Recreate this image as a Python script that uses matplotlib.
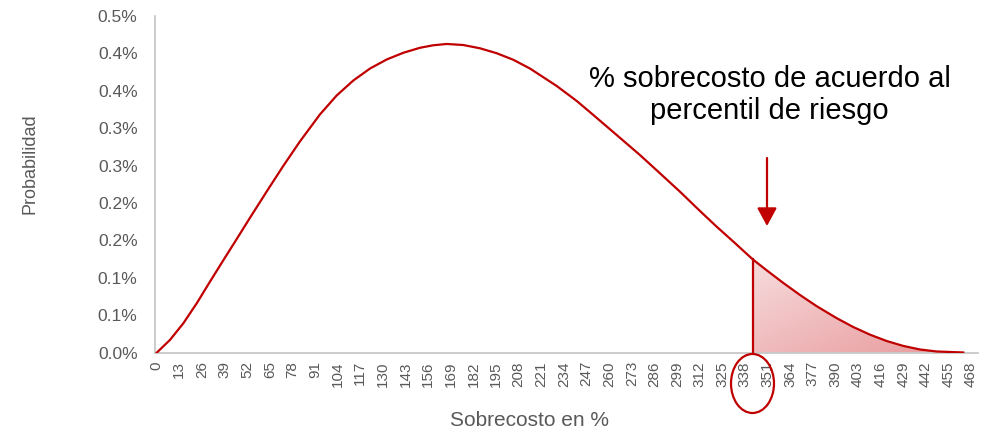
import matplotlib.pyplot as plt
import numpy as np
from matplotlib.patches import Polygon, Ellipse
from matplotlib.colors import LinearSegmentedColormap

plt.rcParams['font.family'] = ['Liberation Sans', 'DejaVu Sans']

# puntos (sobrecosto en %, probabilidad)
sobrecosto = np.array([0.0, 7.6, 15.3, 23.0, 30.6, 38.3, 46.0, 53.6, 63.2, 72.7, 82.3,
                       93.8, 103.4, 113.0, 122.6, 132.2, 141.7, 151.3, 158.8, 166.6,
                       176.2, 185.8, 195.4, 204.9, 214.5, 229.9, 241.4, 250.9, 264.3,
                       277.7, 289.2, 300.7, 312.2, 321.8, 331.4, 342.5, 350.6, 360.1,
                       369.7, 379.3, 390.8, 400.3, 409.9, 419.5, 429.1, 438.6, 448.2,
                       463.5])
probabilidad = np.array([0.0, 0.000170, 0.000393, 0.000660, 0.000949, 0.001236, 0.001520,
                         0.001803, 0.002154, 0.002495, 0.002823, 0.003184, 0.003437,
                         0.003638, 0.003798, 0.003919, 0.004008, 0.004075, 0.004108,
                         0.004126, 0.004112, 0.004068, 0.004002, 0.003915, 0.003798,
                         0.003564, 0.003364, 0.003177, 0.002910, 0.002642, 0.002398,
                         0.002152, 0.001894, 0.001684, 0.001484, 0.001248, 0.001100,
                         0.000932, 0.000771, 0.000621, 0.000461, 0.000343, 0.000241,
                         0.000156, 0.000090, 0.000043, 0.000016, 0.000003])
etiquetas_x = np.arange(0, 469, 13)
y_ticks = [0.0, 0.0005, 0.0010, 0.0015, 0.0020, 0.0025, 0.0030, 0.0035, 0.0040, 0.0045]
y_tick_labels = ['0.0%', '0.1%', '0.1%', '0.2%', '0.2%', '0.3%', '0.3%', '0.4%', '0.4%', '0.5%']
percentil = 342.5

rojo = '#c00000'
gris = '#595959'

fig = plt.figure(figsize=(9.89, 4.32), dpi=100)
ax = fig.add_axes([0.1567, 0.1836, 0.8322, 0.7794])

# curva
ax.plot(sobrecosto, probabilidad, color=rojo, lw=1.6, solid_joinstyle='round', zorder=3)

# area sombreada a la derecha del percentil
mask = sobrecosto >= percentil
xf = sobrecosto[mask]
yf = probabilidad[mask]
verts = list(zip(xf, yf)) + [(xf[-1], 0), (xf[0], 0)]
poly = Polygon(verts, closed=True, facecolor='none', edgecolor='none')
ax.add_patch(poly)
gx, gy = np.meshgrid(np.linspace(0, 1, 200), np.linspace(0, 1, 200))
grad = (gx + 1 - gy) / 2
cmap = LinearSegmentedColormap.from_list('rosa', ['#f7dcdd', '#e8999c'])
im = ax.imshow(grad, cmap=cmap, origin='lower', aspect='auto',
               extent=[xf[0], xf[-1], 0, yf[0]], zorder=1)
im.set_clip_path(poly)
ax.plot([xf[0], xf[0]], [0, yf[0]], color=rojo, lw=1.6, zorder=3)

# ejes
ax.set_xlim(-1, 472)
ax.set_ylim(0, 0.0045)
ax.set_yticks(y_ticks, y_tick_labels)
ax.set_xticks(etiquetas_x, [str(v) for v in etiquetas_x], rotation=90)
for s in ['top', 'right']:
    ax.spines[s].set_visible(False)
for s in ['left', 'bottom']:
    ax.spines[s].set_color('#c8c8c8')
    ax.spines[s].set_linewidth(1.3)
ax.tick_params(axis='y', length=0, labelsize=12.5, colors=gris, pad=12.5)
ax.tick_params(axis='x', length=0, labelsize=11, colors=gris, pad=6)

fig.text(30 / 989, 1 - 164 / 432, 'Probabilidad', rotation=90, ha='center', va='center',
         fontsize=13, color=gris)
fig.text(529 / 989, 1 - 426 / 432, 'Sobrecosto en %', ha='center', va='baseline',
         fontsize=15, color=gris)

# anotacion
fig.text(769.5 / 989, 1 - 95 / 432, '% sobrecosto de acuerdo al\npercentil de riesgo',
         ha='center', va='center', fontsize=21, color='black', multialignment='center')
ax.annotate('', xy=(767 / 989, 1 - 226 / 432), xytext=(767 / 989, 1 - 158 / 432),
            xycoords='figure fraction', textcoords='figure fraction',
            arrowprops=dict(arrowstyle='-|>,head_width=0.3,head_length=0.55', color=rojo,
                            lw=1.6, mutation_scale=20, shrinkA=0, shrinkB=0))

# circulo sobre la etiqueta
elipse = Ellipse((752.5 / 989, 1 - 383.5 / 432), 43 / 989, 59 / 432, transform=fig.transFigure,
                 facecolor='none', edgecolor=rojo, lw=1.6)
fig.add_artist(elipse)

fig.savefig('out.png', dpi=100)
